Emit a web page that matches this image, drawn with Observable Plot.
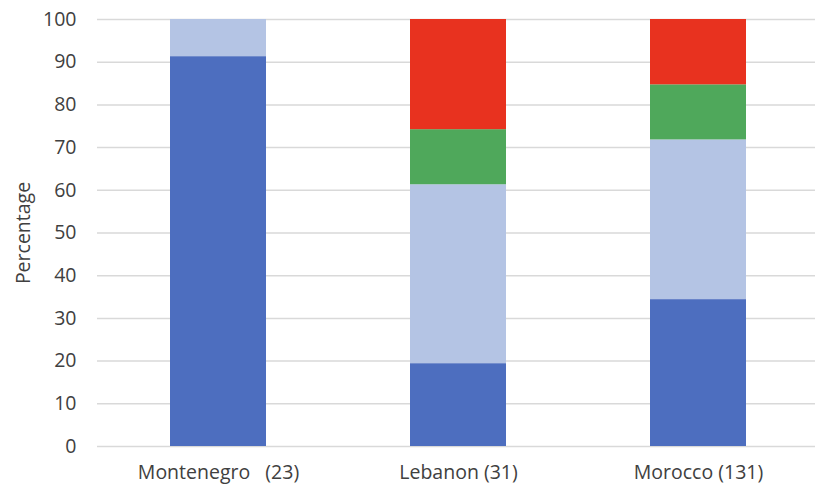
<!DOCTYPE html>
<html>
<head>
<meta charset="utf-8">
<script src="https://cdn.jsdelivr.net/npm/d3@7"></script>
<script src="https://cdn.jsdelivr.net/npm/@observablehq/plot@0.6"></script>
<style>
  html, body { margin: 0; padding: 0; background: #fff; }
  #chart svg { display: block; }
</style>
</head>
<body>
<div id="chart"></div>
<script>
const categories = ["Montenegro\u00a0\u00a0\u00a0(23)", "Lebanon (31)", "Morocco (131)"];
const seriesNames = ["Series 1", "Series 2", "Series 3", "Series 4"];
const seriesColors = ["#4d6ebf", "#b4c4e4", "#4fa85b", "#e8321f"];
const series1 = [91.3, 19.4, 34.4];
const series2 = [8.7, 41.9, 37.4];
const series3 = [0, 12.9, 12.9];
const series4 = [0, 25.8, 15.3];
const yTicks = [0, 10, 20, 30, 40, 50, 60, 70, 80, 90, 100];

const allSeries = [series1, series2, series3, series4];
const data = [];
seriesNames.forEach((s, i) => {
  categories.forEach((c, j) => {
    data.push({category: c, series: s, value: allSeries[i][j]});
  });
});

const chart = Plot.plot({
  width: 815,
  height: 489,
  marginLeft: 97,
  marginRight: 0,
  marginTop: 19,
  marginBottom: 43,
  style: {fontFamily: "'Open Sans', sans-serif", fontSize: "19.5px", color: "#404040"},
  x: {domain: categories, range: [97, 819], paddingInner: 0.6, paddingOuter: 0.3, label: null},
  y: {domain: [0, 100], label: null},
  color: {domain: seriesNames, range: seriesColors},
  marks: [
    Plot.gridY(yTicks, {stroke: "#d9d9d9", strokeOpacity: 1, strokeWidth: 1.5}),
    Plot.barY(data, {x: "category", y: "value", fill: "series", order: seriesNames}),
    Plot.axisY(yTicks, {tickSize: 0, tickPadding: 21, label: null, fill: "#404040", fontSize: 19.5}),
    Plot.axisX({tickSize: 0, tickPadding: 19, label: null, fill: "#404040", fontSize: 19.5}),
    Plot.text(["Percentage"], {frameAnchor: "left", textAnchor: "middle", dx: -74, rotate: -90, fill: "#404040", fontSize: 19.5})
  ]
});
document.getElementById("chart").appendChild(chart);
</script>
</body>
</html>
